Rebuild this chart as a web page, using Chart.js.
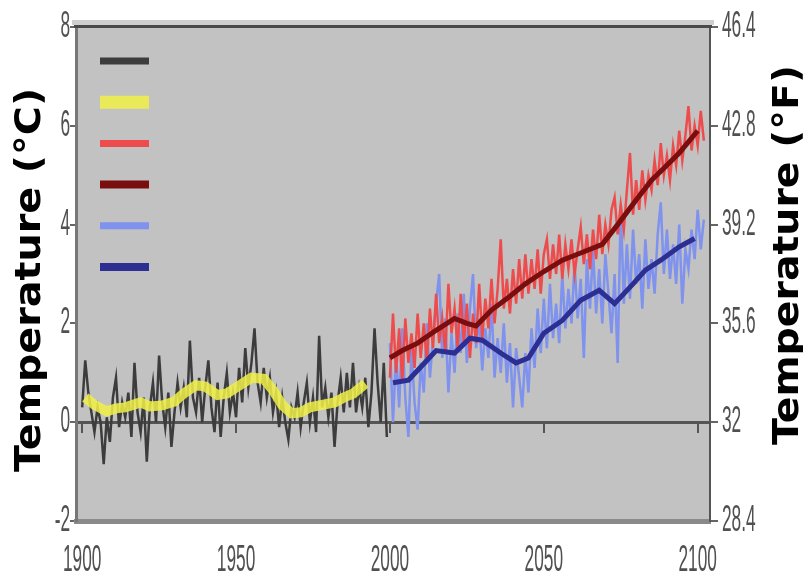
<!DOCTYPE html>
<html>
<head>
<meta charset="utf-8">
<title>Temperature</title>
<script src="https://cdn.jsdelivr.net/npm/chart.js@4.4.0/dist/chart.umd.min.js"></script>
<style>
  html, body { margin: 0; padding: 0; background: #fff; }
  #wrap { width: 803px; height: 579px; }
</style>
</head>
<body>
<div id="wrap"><canvas id="tempChart" width="803" height="579"></canvas></div>
<script>
// observed annual anomalies, one value per year from obsStart
const obsStart = 1900;
const obsAnnual = [
  0.3, 1.25, 0.6, 0.2, -0.2, 0.3, 0.0, -0.85, 0.1, -0.4,
  0.5, 0.9, -0.1, 0.4, 0.1, 0.6, -0.3, 1.2, 0.2, -0.2,
  0.5, -0.8, 0.3, 0.8, 0.0, 1.35, 0.4, -0.1, 0.6, -0.5,
  0.2, 0.8, 0.3, 0.7, 0.1, 1.65, 0.5, 0.2, 0.9, 0.0,
  0.7, 1.25, 0.3, -0.2, 0.8, -0.3, 0.5, 1.0, 0.2, 0.6,
  0.1, 1.1, 0.4, 1.5, 0.7, 1.2, 1.9, 0.8, 0.4, 1.1,
  0.5, 0.9, 0.2, 0.6, -0.1, 0.5, 0.0, -0.35, 0.3, 0.1,
  0.6, -0.1, 0.4, 0.8, 0.0, 0.5, -0.2, 1.75, 0.3, 0.7,
  0.1, 0.6, -0.5, 0.4, 0.9, 0.2, 1.0, 0.3, 1.2, 0.2,
  0.7, 0.3, 0.9, -0.1, 0.6, 1.9, 0.8, 0.0, 1.2, -0.3
];
// smoothed observed curve [year, value]
const obsSmooth = [
  [1901, 0.5], [1904, 0.35], [1908, 0.22], [1911, 0.28], [1914, 0.3],
  [1919, 0.4], [1922, 0.32], [1926, 0.34], [1930, 0.42], [1933, 0.58],
  [1937, 0.75], [1940, 0.72], [1944, 0.55], [1947, 0.58], [1950, 0.7],
  [1955, 0.9], [1959, 0.88], [1962, 0.65], [1965, 0.35], [1968, 0.18],
  [1971, 0.2], [1974, 0.3], [1978, 0.35], [1982, 0.4], [1985, 0.5],
  [1988, 0.58], [1992, 0.78]
];

// projections, one value per year from projStart
const projStart = 2000;
const highAnnual = [
  0.9, 2.2, 1.0, 1.9, 0.8, 2.1, 1.2, 1.8, 1.1, 2.2,
  1.3, 2.0, 1.2, 2.3, 1.5, 2.6, 1.6, 2.1, 1.4, 2.8,
  1.8, 2.3, 1.5, 2.6, 1.6, 2.4, 1.3, 2.2, 1.6, 2.8,
  1.7, 2.5, 1.9, 2.9, 2.0, 2.7, 3.7, 2.3, 2.9, 2.2,
  3.1, 2.4, 3.3, 2.5, 3.4, 2.6, 3.3, 2.7, 3.5, 2.6,
  3.4, 3.7, 2.9, 3.6, 3.0, 3.8, 2.9, 3.6, 3.1, 3.7,
  3.0, 3.5, 3.95, 3.2, 3.8, 3.1, 3.9, 3.3, 4.2, 3.4,
  4.0, 3.6, 4.3, 4.55, 3.8, 4.4, 3.9, 4.7, 5.45, 4.2,
  4.9, 4.3, 5.1, 4.5, 5.0, 4.7, 5.3, 4.8, 5.65, 5.0,
  5.4, 4.9, 5.6, 5.2, 5.9, 5.3, 5.8, 6.4, 5.5, 6.0,
  5.6, 6.3, 5.7
];
const highSmooth = [
  [2000, 1.3], [2004, 1.45], [2009, 1.6], [2015, 1.86], [2021, 2.1],
  [2025, 2.0], [2028, 1.95], [2033, 2.27], [2039, 2.55], [2044, 2.8],
  [2050, 3.05], [2056, 3.28], [2063, 3.45], [2069, 3.6], [2074, 4.0],
  [2080, 4.5], [2085, 4.9], [2090, 5.2], [2094, 5.45], [2100, 5.9]
];
const lowAnnual = [
  1.6, 0.0, 1.4, 0.3, 1.9, 0.5, -0.3, 1.5, 0.4, -0.15,
  1.2, 0.6, 2.0, 0.9, 1.7, 2.4, 3.0, 1.3, 2.1, 0.6,
  1.8, 1.0, 2.2, 1.4, 2.6, 1.2, 2.3, 3.0, 1.5, 2.1,
  1.05, 1.9, 1.3, 2.4, 0.9, 1.7, 1.0, 2.0, 0.8, 1.6,
  0.3, 1.5, 0.9, 0.3, 1.4, 0.6, 1.9, 1.1, 2.3, 1.4,
  2.5, 1.5, 2.8, 1.7, 2.4, 1.6, 3.0, 1.9, 2.7, 2.0,
  3.2, 2.1, 2.9, 1.3, 3.3, 2.3, 3.5, 2.2, 3.1, 2.0,
  3.4, 2.6, 1.8, 3.0, 1.2, 4.4, 2.4, 3.6, 2.5, 3.9,
  2.8, 3.4, 2.3, 3.7, 2.7, 3.3, 2.6, 3.8, 4.45, 3.0,
  3.9, 2.9, 3.6, 2.8, 4.0, 2.4, 3.5, 3.1, 3.9, 3.3,
  4.3, 3.5, 4.1
];
const lowSmooth = [
  [2001, 0.8], [2006, 0.85], [2012, 1.25], [2015, 1.45], [2021, 1.4],
  [2026, 1.7], [2030, 1.66], [2036, 1.4], [2041, 1.2], [2045, 1.3],
  [2050, 1.8], [2056, 2.06], [2062, 2.47], [2068, 2.67], [2073, 2.4],
  [2079, 2.8], [2083, 3.08], [2088, 3.28], [2094, 3.55], [2099, 3.72]
];

const yearTicks = [1900, 1950, 2000, 2050, 2100];
const celsiusTicks = [-2, 0, 2, 4, 6, 8];
const fahrenheitLabels = ['28.4', '32', '35.6', '39.2', '42.8', '46.4'];

function yearly(start, values) {
  return values.map((v, i) => ({ x: start + i, y: v }));
}
function pairs(list) {
  return list.map(p => ({ x: p[0], y: p[1] }));
}

const tickFont = '36px "Liberation Sans", Arial, sans-serif';
const labelColor = '#505050';

// draws text squeezed horizontally, the way the axis numbers look
function squeezed(ctx, text, x, y, align) {
  ctx.save();
  ctx.translate(x, y);
  ctx.scale(0.48, 1);
  ctx.font = tickFont;
  ctx.fillStyle = labelColor;
  ctx.textAlign = align;
  ctx.textBaseline = 'middle';
  ctx.fillText(text, 0, 0);
  ctx.restore();
}

function verticalTitle(ctx, text, cx, cy, length) {
  ctx.save();
  ctx.font = 'bold 36px "DejaVu Sans", sans-serif';
  const w = ctx.measureText(text).width;
  ctx.translate(cx, cy);
  ctx.rotate(-Math.PI / 2);
  ctx.scale(length / w, 1);
  ctx.fillStyle = '#000';
  ctx.textAlign = 'center';
  ctx.textBaseline = 'middle';
  ctx.fillText(text, 0, 0);
  ctx.restore();
}

const framePlugin = {
  id: 'frame',
  beforeDraw(chart) {
    const { ctx, chartArea: a } = chart;
    ctx.save();
    ctx.fillStyle = '#c2c2c2';
    ctx.fillRect(a.left, a.top, a.right - a.left, a.bottom - a.top);
    ctx.restore();
  },
  afterDraw(chart) {
    const { ctx, chartArea: a, scales } = chart;
    ctx.save();
    // top frame edge
    ctx.fillStyle = '#cfcfcf';
    ctx.fillRect(a.left - 4, a.top - 7, a.right - a.left + 8, 5);
    ctx.fillStyle = '#4a4a4a';
    ctx.fillRect(a.left - 2, a.top - 2, a.right - a.left + 4, 3);

    // legend swatches, one per dataset
    chart.data.datasets.forEach((ds, i) => {
      const y = 61 + i * 41.2;
      ctx.strokeStyle = ds.borderColor;
      ctx.lineWidth = ds.swatchWidth;
      ctx.lineCap = 'butt';
      ctx.beginPath();
      ctx.moveTo(100, y);
      ctx.lineTo(149, y);
      ctx.stroke();
    });
    ctx.restore();

    // tick numbers
    scales.y.ticks.forEach(t => {
      squeezed(ctx, String(t.value), 70, scales.y.getPixelForValue(t.value), 'right');
    });
    scales.y2.ticks.forEach(t => {
      const idx = celsiusTicks.indexOf(t.value);
      squeezed(ctx, fahrenheitLabels[idx], 722, scales.y2.getPixelForValue(t.value), 'left');
    });
    scales.x.ticks.forEach(t => {
      squeezed(ctx, String(t.value), scales.x.getPixelForValue(t.value), 561, 'center');
    });

    verticalTitle(ctx, 'Temperature (°C)', 31, 280, 384);
    verticalTitle(ctx, 'Temperature (°F)', 789, 255, 380);
  }
};

const yearRange = { min: 1898, max: 2104 };
const fixYearTicks = s => { s.ticks = yearTicks.map(v => ({ value: v })); };
const fixTempTicks = s => { s.ticks = celsiusTicks.map(v => ({ value: v })); };

const ctx = document.getElementById('tempChart').getContext('2d');
new Chart(ctx, {
  type: 'line',
  data: {
    datasets: [
      {
        label: 'Observed',
        data: yearly(obsStart, obsAnnual),
        borderColor: '#3c3c3c',
        borderWidth: 2.5,
        swatchWidth: 7,
        order: 2
      },
      {
        label: 'Observed, smoothed',
        data: pairs(obsSmooth),
        borderColor: 'rgba(240, 240, 70, 0.85)',
        borderWidth: 10,
        swatchWidth: 13,
        order: 1
      },
      {
        label: 'Higher emissions',
        data: yearly(projStart, highAnnual),
        borderColor: '#ee4c4c',
        borderWidth: 2.5,
        swatchWidth: 7,
        order: 5
      },
      {
        label: 'Higher emissions, smoothed',
        data: pairs(highSmooth),
        borderColor: '#7a0e0e',
        borderWidth: 5,
        swatchWidth: 8,
        order: 3
      },
      {
        label: 'Lower emissions',
        data: yearly(projStart, lowAnnual),
        borderColor: '#7e92ee',
        borderWidth: 2.5,
        swatchWidth: 7,
        order: 6
      },
      {
        label: 'Lower emissions, smoothed',
        data: pairs(lowSmooth),
        borderColor: '#2c2e92',
        borderWidth: 5,
        swatchWidth: 8,
        order: 4
      }
    ]
  },
  options: {
    responsive: false,
    animation: false,
    layout: { padding: { top: 27 } },
    elements: {
      point: { radius: 0 },
      line: { tension: 0 }
    },
    plugins: {
      legend: { display: false },
      tooltip: { enabled: false }
    },
    scales: {
      x: {
        type: 'linear',
        position: 'bottom',
        ...yearRange,
        afterBuildTicks: fixYearTicks,
        afterFit: s => { s.height = 58; },
        ticks: { display: false },
        grid: { drawOnChartArea: false, drawTicks: false },
        border: { color: '#8a8a8a', width: 5 }
      },
      xZero: {
        type: 'linear',
        position: { y: 0 },
        ...yearRange,
        afterBuildTicks: fixYearTicks,
        ticks: { display: false },
        grid: { drawOnChartArea: false, tickLength: 9, color: '#555', lineWidth: 2 },
        border: { color: '#555', width: 3 }
      },
      y: {
        type: 'linear',
        position: 'left',
        min: -2,
        max: 8,
        afterBuildTicks: fixTempTicks,
        afterFit: s => { s.width = 76; },
        ticks: { display: false },
        grid: { drawOnChartArea: false, tickLength: 6, color: '#666', lineWidth: 2 },
        border: { color: '#777', width: 3 }
      },
      y2: {
        type: 'linear',
        position: 'right',
        min: -2,
        max: 8,
        afterBuildTicks: fixTempTicks,
        afterFit: s => { s.width = 93; },
        ticks: { display: false },
        grid: { drawOnChartArea: false, tickLength: 8, color: '#666', lineWidth: 2 },
        border: { color: '#555', width: 2 }
      }
    }
  },
  plugins: [framePlugin]
});
</script>
</body>
</html>
